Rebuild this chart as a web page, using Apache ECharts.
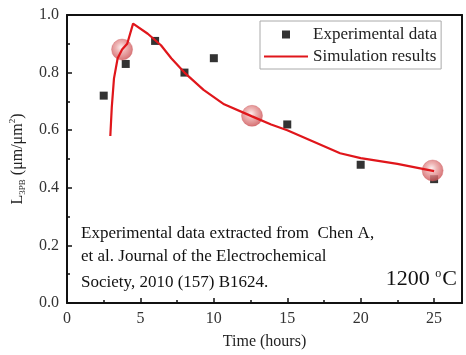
<!DOCTYPE html>
<html>
<head>
<meta charset="utf-8">
<script src="https://cdn.jsdelivr.net/npm/echarts@6/dist/echarts.min.js"></script>
<style>
  html, body { margin: 0; padding: 0; background: #fff; }
  #chart { width: 466px; height: 355px; }
</style>
</head>
<body>
<div id="chart"></div>
<script>
// experimental points (Chen A. et al.)
const expHours = [2.5, 4, 6, 8, 10, 15, 20, 25]
const expValues = [0.72, 0.83, 0.91, 0.80, 0.85, 0.62, 0.48, 0.43]

// simulation curve
const simHours = [2.95, 3.05, 3.2, 3.45, 3.75, 4.1, 4.5, 5.5, 6.4, 7.1, 8.0, 9.3, 10.7, 12.6, 13.9, 15.0, 16.8, 18.6, 20.0, 22.5, 25.0]
const simValues = [0.58, 0.68, 0.78, 0.85, 0.88, 0.90, 0.97, 0.935, 0.895, 0.85, 0.80, 0.74, 0.69, 0.648, 0.62, 0.60, 0.56, 0.52, 0.503, 0.483, 0.458]

// highlighted balls on the curve
const ballHours = [3.75, 12.6, 24.9]
const ballValues = [0.88, 0.65, 0.46]

const yTicks = [0.0, 0.2, 0.4, 0.6, 0.8, 1.0]
const xMax = 26.9

const serif = '"Liberation Serif", "DejaVu Serif", serif'
const squarePath = 'path://M0,0L10,0L10,10L0,10Z'

const zip = (xs, ys) => xs.map((x, i) => [x, ys[i]])

const chart = echarts.init(document.getElementById('chart'))

// axis only used to close the box on top / right
const frameAxis = (position, min, max) => ({
  type: 'value',
  position,
  min,
  max,
  axisLine: { show: true, onZero: false, lineStyle: { color: '#111', width: 2 } },
  axisTick: { show: false },
  axisLabel: { show: false },
  splitLine: { show: false }
})

chart.setOption({
  backgroundColor: '#fff',
  animation: false,
  grid: { left: 66, right: 4, top: 15, bottom: 50 },
  legend: {
    orient: 'vertical',
    left: 260,
    top: 21,
    padding: [5, 4, 4, 3],
    itemWidth: 44,
    itemHeight: 8,
    itemGap: 5,
    borderColor: '#aaa',
    borderWidth: 1,
    textStyle: { fontFamily: serif, fontSize: 17, color: '#222' },
    data: [
      { name: 'Experimental data', icon: squarePath },
      { name: 'Simulation results', itemStyle: { opacity: 0 } }
    ]
  },
  xAxis: [
    {
      type: 'value',
      min: 0,
      max: xMax,
      interval: 5,
      name: 'Time (hours)',
      nameLocation: 'middle',
      nameGap: 31,
      nameTextStyle: { fontFamily: serif, fontSize: 16, color: '#222' },
      axisLine: { show: true, lineStyle: { color: '#111', width: 2 } },
      axisTick: { show: true, inside: true, length: 5, lineStyle: { color: '#111', width: 1.5 } },
      minorTick: { show: true, splitNumber: 2, length: 3, lineStyle: { color: '#111', width: 1.5 } },
      splitLine: { show: false },
      axisLabel: { fontFamily: serif, fontSize: 16, color: '#333', showMaxLabel: false }
    },
    frameAxis('top', 0, xMax)
  ],
  yAxis: [
    {
      type: 'value',
      min: 0,
      max: 1,
      interval: 0.2,
      name: '{a|L}{sub|3PB}{a| (μm/μm}{sup|2}{a|)}',
      nameLocation: 'middle',
      nameGap: 40,
      nameRotate: 90,
      nameTextStyle: {
        rich: {
          a: { fontFamily: serif, fontSize: 16, color: '#222' },
          sub: { fontFamily: serif, fontSize: 9, color: '#222', padding: [10, 0, 0, 0] },
          sup: { fontFamily: serif, fontSize: 9, color: '#222', padding: [0, 0, 10, 0] }
        }
      },
      axisLine: { show: true, lineStyle: { color: '#111', width: 2 } },
      axisTick: { show: true, inside: true, length: 5, lineStyle: { color: '#111', width: 1.5 } },
      minorTick: { show: true, splitNumber: 2, length: 3, lineStyle: { color: '#111', width: 1.5 } },
      splitLine: { show: false },
      axisLabel: {
        fontFamily: serif,
        fontSize: 16,
        color: '#333',
        formatter: v => yTicks[Math.round(v / 0.2)].toFixed(1)
      }
    },
    frameAxis('right', 0, 1)
  ],
  series: [
    {
      name: 'Simulation results',
      type: 'line',
      data: zip(simHours, simValues),
      symbol: 'none',
      lineStyle: { color: '#e0161b', width: 2.2 },
      itemStyle: { color: '#e0161b' }
    },
    {
      name: 'Experimental data',
      type: 'scatter',
      data: zip(expHours, expValues),
      symbol: squarePath,
      symbolKeepAspect: true,
      symbolSize: 8,
      itemStyle: { color: '#000' }
    },
    {
      name: 'balls',
      type: 'scatter',
      data: zip(ballHours, ballValues),
      symbolSize: 21,
      itemStyle: {
        color: {
          type: 'radial',
          x: 0.45,
          y: 0.4,
          r: 0.6,
          colorStops: [
            { offset: 0, color: '#fbeaea' },
            { offset: 0.4, color: '#e9a0a0' },
            { offset: 1, color: '#cc4f52' }
          ]
        },
        borderColor: '#cf6264',
        borderWidth: 0.5
      }
    }
  ],
  graphic: [
    {
      type: 'text',
      left: 81,
      top: 225,
      style: { text: 'Experimental data extracted from  Chen A,', font: '17px ' + serif, fill: '#111' }
    },
    {
      type: 'text',
      left: 81,
      top: 248,
      style: { text: 'et al. Journal of the Electrochemical', font: '17px ' + serif, fill: '#111' }
    },
    {
      type: 'text',
      left: 81,
      top: 274,
      style: { text: 'Society, 2010 (157) B1624.', font: '17px ' + serif, fill: '#111' }
    },
    {
      type: 'text',
      right: 9,
      top: 268,
      style: {
        text: '{a|1200 }{s|o}{a|C}',
        rich: {
          a: { fontFamily: serif, fontSize: 22, fill: '#111', color: '#111' },
          s: { fontFamily: serif, fontSize: 12, fill: '#111', color: '#111', padding: [0, 1, 10, 0] }
        }
      }
    }
  ]
})
</script>
</body>
</html>
